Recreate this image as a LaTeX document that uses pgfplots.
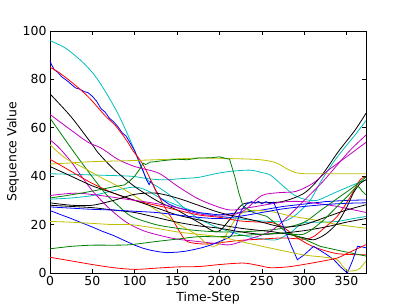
\documentclass[border=0pt]{standalone}
\usepackage{pgfplots}
\pgfplotsset{compat=1.18}
\usepackage{fontspec}
\setmainfont{DejaVu Sans}
\usetikzlibrary{calc}
\definecolor{mb}{rgb}{0,0,1}
\definecolor{mg}{rgb}{0,0.5,0}
\definecolor{mr}{rgb}{1,0,0}
\definecolor{mc}{rgb}{0,0.75,0.75}
\definecolor{mm}{rgb}{0.75,0,0.75}
\definecolor{my}{rgb}{0.75,0.75,0}
\definecolor{mk}{rgb}{0,0,0}
\begin{document}
\begin{tikzpicture}
\begin{axis}[name=ax,
  scale only axis, width=316bp, height=242bp,
  xmin=0, xmax=373, ymin=0, ymax=100,
  xtick={0,50,100,150,200,250,300,350},
  ytick={0,20,40,60,80,100},
  tick align=inside, xtick pos=both, ytick pos=both,
  major tick length=4bp,
  tick style={black, line width=0.6bp},
  axis line style={black, line width=0.8bp},
  /pgf/number format/assume math mode=true,
  ticklabel style={font=\fontsize{12.5}{14}\selectfont},
  label style={font=\fontsize{12.5}{14}\selectfont},
  xlabel={Time-Step}, ylabel={Sequence Value},
  xlabel style={yshift=1bp},
  ylabel style={yshift=-3bp},
  every axis plot/.append style={line width=0.8bp, no markers},
  clip=true,
]
% cyan 96
\addplot[mc, smooth] coordinates {(0,96)(18,93)(37,87.6)(52,82)(65,75.2)(80,66)(92,57)(100,50.5)(108,44)(115,38.5)(130,35)(142,32)(158,27)(173,23)(193,19.5)(213,17)(235,15)(260,13.7)(270,14)(285,17)(299,20.7)(320,21)(339,21.3)(355,22.3)(373,23.4)};
% cyan 30
\addplot[mc, smooth] coordinates {(0,30.5)(25,31)(50,32)(75,34)(100,35.5)(115,34)(130,31)(150,28)(175,25)(200,23.5)(225,22.3)(250,21.5)(275,21.3)(290,24)(307,30)(320,38)(335,46)(346,51)(360,57)(373,63)};
% cyan 41
\addplot[mc, smooth] coordinates {(0,41)(25,40.8)(50,40.5)(95,40)(115,39)(134,38.5)(155,39)(175,39.5)(195,41)(213,42)(236,42.5)(250,41.5)(260,40.5)(275,36)(287,32.5)(300,30.5)(315,30)(335,33)(355,36)(373,38.5)};
% blue 87 wiggly
\addplot[mb] coordinates {(0,87.5)(2,86)(5,84)(9,83)(14,81)(20,79.5)(25,78)(30,76.5)(35,76)(40,75)(45,74.5)(50,73)(55,71)(60,68)(65,66.5)(70,64)(75,62.5)(80,60.5)(85,58)(90,56.5)(95,53.5)(100,50.5)(105,46)(110,42)(114,38.5)(117,36.5)(119,38)(121,37)(125,34)(130,31)(140,28.5)(150,27)(175,25)(200,24)(225,25)(250,26)(275,27.5)(300,28.5)(325,29.5)(350,30)(373,30.2)};
% red 85
\addplot[mr, smooth] coordinates {(0,85)(10,83)(25,79)(40,74.5)(50,71)(65,65)(77,61)(90,55)(98,50.5)(110,44.7)(125,34)(135,27.5)(146,21.3)(154,16.5)(162,13)(180,12)(200,12.5)(225,13.5)(250,14)(275,14.5)(300,14)(311,15)(325,19)(339,23.4)(352,30)(366,38.5)(373,39.5)};
% black 74
\addplot[mk, smooth] coordinates {(0,74)(25,64.5)(50,53)(57,49.6)(75,43)(100,35.7)(128,29.5)(150,26)(175,21)(197,17)(212,22)(228,28.5)(250,29)(274,29.5)(300,33)(320,40)(340,50)(360,59)(373,66)};
% magenta 65
\addplot[mm, smooth] coordinates {(0,65.5)(25,59)(45,54)(60,51.7)(80,47)(100,44)(128,41.3)(150,36)(173,31)(193,28)(213,26)(235,27)(260,28.5)(280,29.5)(299,29.5)(320,28.5)(339,27.5)(373,25)};
% green 64
\addplot[mg, smooth] coordinates {(0,64)(29,49.6)(45,42)(65,33)(80,28)(96,23.4)(125,20)(150,18.5)(175,17.5)(200,17)(225,17)(250,17.5)(275,18.5)(300,21)(320,26)(340,31)(360,36)(373,39.7)};
% magenta 55
\addplot[mm, smooth] coordinates {(0,55)(10,52)(25,46)(35,41)(50,34)(69,27)(90,21)(110,17.5)(130,15.5)(150,14)(175,13)(200,12)(213,11.7)(235,14)(260,17.2)(280,23)(300,30)(320,37)(340,45)(355,51)(373,57)};
% yellow 53
\addplot[my, smooth] coordinates {(0,53)(6,51)(20,47)(37,44)(60,39.5)(88,34.4)(110,29.5)(128,25.4)(150,20.5)(173,15.8)(185,12)(193,11)(203,13)(213,19)(222,23.5)(235,25.8)(260,25.4)(285,23.5)(311,22)(340,20)(373,18.5)};
% yellow 45
\addplot[my, smooth] coordinates {(0,45)(25,45.5)(50,46)(100,46.5)(140,47)(177,47.5)(210,47.3)(240,47)(255,46.5)(268,45.4)(280,43)(292,41.3)(310,41)(373,41)};
% red 47
\addplot[mr, smooth] coordinates {(0,47)(15,44)(25,42)(50,37)(75,33)(100,30)(125,28)(150,26)(175,24)(200,23)(225,21.5)(250,21)(262,20.8)(275,19)(290,15)(310,11)(339,8)(373,7.5)};
% black 44
\addplot[mk, smooth] coordinates {(0,44)(25,40)(50,36)(75,33)(100,30)(125,27)(150,24)(175,22)(200,20)(225,18.5)(250,17.5)(260,17.2)(284,15.8)(300,14.5)(311,13.7)(325,16)(339,20.6)(350,27)(358,33)(366,37)(373,38.5)};
% magenta 32
\addplot[mm, smooth] coordinates {(0,32)(30,33)(60,32)(90,30.5)(120,29)(150,27)(175,24.5)(200,23.5)(215,24)(230,26)(250,32)(270,33.2)(290,33.7)(310,37)(329,42.6)(350,48)(373,54)};
% green 31
\addplot[mg] coordinates {(0,31)(20,32)(37,33)(60,34.5)(76,35.7)(88,36.4)(94,38)(100,40)(106,43)(110,45.4)(113,44.8)(118,45.8)(124,46)(135,46.5)(150,47)(162,46.8)(175,47.5)(190,47.6)(200,48)(212,47)(218,40)(223,33)(228,27.5)(240,25)(256,23.4)(268,20)(280,16.6)(300,14)(319,11)(345,9)(373,7)};
% black 29
\addplot[mk, smooth] coordinates {(0,29)(25,28)(50,28)(75,30)(100,32.5)(125,33)(150,31)(175,28)(200,25)(225,23)(250,21)(275,19)(300,20)(325,23)(350,26)(373,28.2)};
% black 28
\addplot[mk, smooth] coordinates {(0,28)(25,27.5)(50,27)(75,26)(100,25)(125,23)(150,21)(175,19.5)(200,18.5)(225,17)(250,16)(275,16.5)(300,17.5)(325,19)(350,21)(373,22.5)};
% blue 27
\addplot[mb, smooth] coordinates {(0,27.3)(25,26.8)(50,26.3)(75,26)(100,25.5)(125,25)(150,24)(175,23)(200,22.5)(225,23.5)(250,25)(275,26.5)(300,27.5)(325,28.3)(350,28.8)(373,29)};
% blue 26 jagged
\addplot[mb] coordinates {(0,25.8)(12,24.2)(25,22.5)(37,20.8)(50,19)(62,17.2)(75,15.5)(88,13.4)(100,11.5)(110,10.2)(120,9.3)(130,8.7)(138,8.4)(150,8.6)(160,9)(170,9.7)(180,10.5)(190,11.6)(200,13)(207,14)(213,15)(217,17)(220,20)(223,23.5)(226,26)(232,28.5)(238,29.5)(242,28.8)(246,29.6)(250,28.6)(255,29.5)(259,28.7)(264,29.3)(270,24)(278,17)(285,11)(292,5.5)(300,7.5)(311,11)(318,9.5)(325,8)(335,5.5)(343,2.5)(351,0)(357,5)(363,11)(368,10.8)(373,10.4)};
% yellow 21
\addplot[my, smooth] coordinates {(0,21.3)(25,21)(50,20.5)(75,20)(95,20)(125,18.5)(150,17)(175,16)(200,15)(225,13)(260,10.3)(299,7.5)(325,6.5)(339,5.5)(345,3)(351,1)(360,1)(366,2)(373,5)};
% green 10
\addplot[mg, smooth] coordinates {(0,10)(25,11)(50,11.5)(75,11.5)(95,11.7)(125,13)(150,14)(175,15)(200,15)(225,15.5)(250,16)(275,16.5)(299,16)(320,21)(339,27.5)(352,32)(360,35)(364,35.7)(368,34)(373,32.3)};
% red 6
\addplot[mr, smooth] coordinates {(0,6.5)(25,5)(50,3.5)(75,2.2)(100,1.5)(125,2)(150,2.5)(177,2.7)(200,3.5)(228,4.1)(245,3.2)(260,2.2)(280,2.5)(299,3.5)(320,4.8)(339,6.2)(355,8.8)(373,11.7)};
\end{axis}
\path[use as bounding box] ($(ax.south west)+(-50bp,-32bp)$) rectangle ($(ax.north east)+(41bp,31bp)$);
\end{tikzpicture}
\end{document}
